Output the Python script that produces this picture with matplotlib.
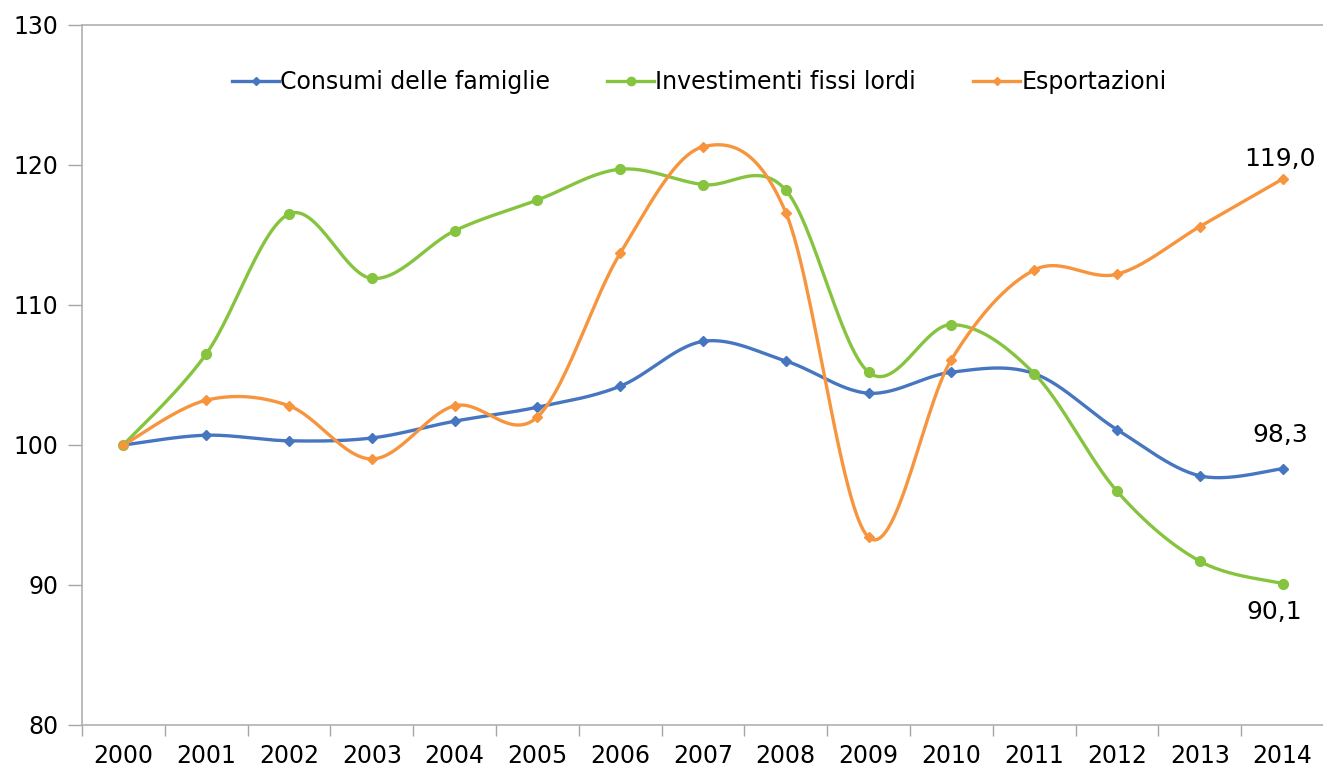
import matplotlib
matplotlib.use("Agg")
import matplotlib.pyplot as plt
import numpy as np

years = ["2000", "2001", "2002", "2003", "2004", "2005", "2006", "2007",
         "2008", "2009", "2010", "2011", "2012", "2013", "2014"]
consumi = [100.0, 100.7, 100.3, 100.5, 101.7, 102.7, 104.2, 107.4,
           106.0, 103.7, 105.2, 105.1, 101.1, 97.8, 98.3]
investimenti = [100.0, 106.5, 116.5, 111.9, 115.3, 117.5, 119.7, 118.6,
                118.2, 105.2, 108.6, 105.1, 96.7, 91.7, 90.1]
esportazioni = [100.0, 103.2, 102.8, 99.0, 102.8, 102.0, 113.7, 121.3,
                116.6, 93.4, 106.1, 112.5, 112.2, 115.6, 119.0]
labels = ["Consumi delle famiglie", "Investimenti fissi lordi", "Esportazioni"]
colors = ["#4676c0", "#86c440", "#f7953f"]


def smooth(x, y, n=30):
    # Catmull-Rom through the points, like Excel's smoothed lines
    x = np.asarray(x, float)
    y = np.asarray(y, float)
    px = np.concatenate([[x[0]], x, [x[-1]]])
    py = np.concatenate([[y[0]], y, [y[-1]]])
    xs, ys = [], []
    t = np.linspace(0, 1, n)
    for i in range(1, len(px) - 2):
        p0, p1, p2, p3 = [np.array([px[j], py[j]]) for j in (i - 1, i, i + 1, i + 2)]
        c1 = p1 + (p2 - p0) / 6
        c2 = p2 - (p3 - p1) / 6
        b = ((1 - t) ** 3)[:, None] * p1 + (3 * (1 - t) ** 2 * t)[:, None] * c1 \
            + (3 * (1 - t) * t ** 2)[:, None] * c2 + (t ** 3)[:, None] * p2
        xs.extend(b[:, 0])
        ys.extend(b[:, 1])
    return np.array(xs), np.array(ys)


fig = plt.figure(figsize=(13.23, 7.72), dpi=100)
ax = fig.add_axes([82 / 1323, 1 - 725 / 772, (1324 - 82) / 1323, (725 - 25) / 772])

x = np.arange(len(years))
series = [consumi, investimenti, esportazioni]
markers = ["D", "o", "D"]
msizes = [5, 7, 5]
for vals, lab, col, m, ms in zip(series, labels, colors, markers, msizes):
    sx, sy = smooth(x, vals)
    ax.plot(sx, sy, color=col, lw=2.4, zorder=3)
    ax.plot(x, vals, ls="none", marker=m, ms=ms, color=col, zorder=4)
    ax.plot([], [], color=col, lw=2.4, marker=m, ms=ms - 1, label=lab)

ax.set_xlim(-0.5, len(years) - 0.5)
ax.set_ylim(80, 130)
ax.set_yticks(np.arange(80, 131, 10))
ax.set_xticks(x)
ax.set_xticklabels(years)
ax.set_xticks(np.arange(-0.5, len(years), 1), minor=True)
ax.tick_params(axis="x", which="major", length=0, pad=14, labelsize=17)
ax.tick_params(axis="x", which="minor", length=8, color="#a6a6a6", width=1)
ax.tick_params(axis="y", length=10, color="#a6a6a6", width=1, pad=7, labelsize=17)

for s in ax.spines.values():
    s.set_color("#b0b0b0")
    s.set_linewidth(1.2)
ax.spines["right"].set_visible(False)

fs = 18
ax.annotate("119,0", (14, esportazioni[-1]), xytext=(-2, 6), textcoords="offset points",
            ha="center", va="bottom", fontsize=fs)
ax.annotate("98,3", (14, consumi[-1]), xytext=(-2, 16), textcoords="offset points",
            ha="center", va="bottom", fontsize=fs)
ax.annotate("90,1", (14, investimenti[-1]), xytext=(-6, -12), textcoords="offset points",
            ha="center", va="top", fontsize=fs)

ax.legend(loc="center", bbox_to_anchor=(0.497, 0.918), ncol=3, frameon=False,
          fontsize=17, handlelength=2.0, handletextpad=0.05, columnspacing=2.4)

fig.savefig("out.png", dpi=100)
